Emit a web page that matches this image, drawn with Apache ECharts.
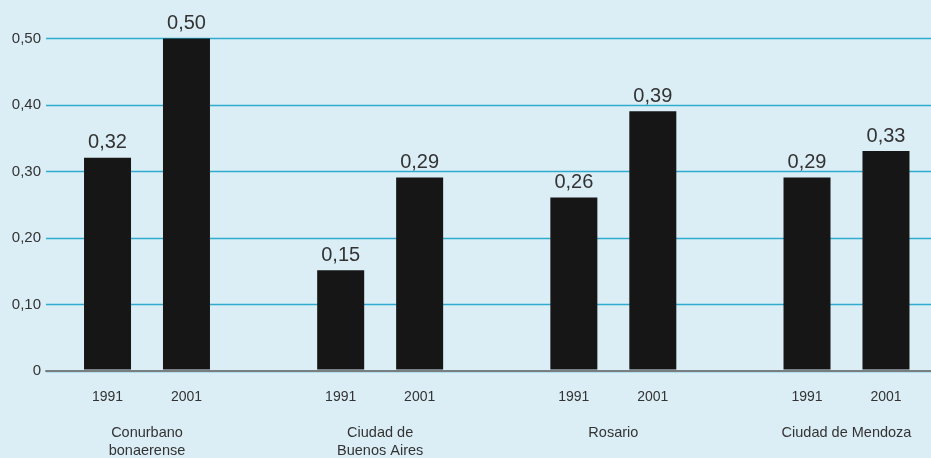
<!DOCTYPE html>
<html>
<head>
<meta charset="utf-8">
<script src="https://cdn.jsdelivr.net/npm/echarts@6/dist/echarts.min.js"></script>
<style>
  html, body { margin: 0; padding: 0; background: #DBEEF6; }
  #chart { width: 931px; height: 458px; }
</style>
</head>
<body>
<div id="chart"></div>
<script>
// Cities and census years
const categories = ['Conurbano\nbonaerense', 'Ciudad de\nBuenos Aires', 'Rosario', 'Ciudad de Mendoza'];
const years = ['1991', '2001'];
const values1991 = [0.32, 0.15, 0.26, 0.29];
const values2001 = [0.50, 0.29, 0.39, 0.33];
// Vertical scale
const yMin = 0;
const yMax = 0.5;
const yStep = 0.1;

const FONT = '"Liberation Sans", Arial, Helvetica, sans-serif';
const TEXT = '#333333';

const fmt = v => (v === 0 ? '0' : v.toFixed(2).replace('.', ','));

const chart = echarts.init(document.getElementById('chart'), null, { renderer: 'canvas' });

const barLabel = {
  show: true,
  position: 'top',
  distance: 5,
  fontFamily: FONT,
  fontSize: 20,
  color: TEXT,
  formatter: p => fmt(p.value)
};

chart.setOption({
  backgroundColor: '#DBEEF6',
  animation: false,
  textStyle: { fontFamily: FONT },
  grid: [
    // bars + category labels: first and last city sit on the grid edges
    { left: 147, right: 84.5, top: 38.5, bottom: 87, containLabel: false },
    // value scale, gridlines and baseline
    { left: 46, right: 0, top: 38.5, bottom: 87, containLabel: false }
  ],
  xAxis: [
    {
      type: 'category',
      gridIndex: 0,
      data: categories,
      boundaryGap: false,
      axisLine: { show: false },
      axisTick: { show: false },
      splitLine: { show: false },
      axisLabel: {
        interval: 0,
        margin: 18,
        color: TEXT,
        fontFamily: FONT,
        formatter: v =>
          '{y|' + years[0] + '}{y|' + years[1] + '}\n{g| }\n' +
          v.split('\n').map(s => '{n|' + s + '}').join('\n'),
        rich: {
          y: { width: 79, align: 'center', fontSize: 14, lineHeight: 20, color: TEXT, fontFamily: FONT },
          g: { fontSize: 2, lineHeight: 16 },
          n: { fontSize: 14.5, lineHeight: 18, color: TEXT, fontFamily: FONT }
        }
      }
    },
    {
      type: 'value',
      gridIndex: 1,
      min: 0,
      max: 1,
      axisLine: { show: true, onZero: false, lineStyle: { color: '#7B7E80', width: 2 } },
      axisTick: { show: false },
      axisLabel: { show: false },
      splitLine: { show: false }
    }
  ],
  yAxis: [
    {
      type: 'value',
      gridIndex: 0,
      min: yMin,
      max: yMax,
      interval: yStep,
      show: false,
      splitLine: { show: false }
    },
    {
      type: 'value',
      gridIndex: 1,
      min: yMin,
      max: yMax,
      interval: yStep,
      axisLine: { show: false },
      axisTick: { show: false },
      splitLine: { show: true, lineStyle: { color: '#2FABD0', width: 1.3 } },
      axisLabel: {
        margin: 5,
        color: TEXT,
        fontFamily: FONT,
        fontSize: 15,
        padding: [0, 0, 8, 0],
        formatter: v => fmt(v)
      }
    }
  ],
  series: [
    {
      name: years[0],
      type: 'bar',
      xAxisIndex: 0,
      yAxisIndex: 0,
      data: values1991,
      barWidth: 47,
      barGap: '68%',
      itemStyle: { color: '#161616' },
      label: barLabel
    },
    {
      name: years[1],
      type: 'bar',
      xAxisIndex: 0,
      yAxisIndex: 0,
      data: values2001,
      barWidth: 47,
      barGap: '68%',
      itemStyle: { color: '#161616' },
      label: barLabel
    }
  ]
});
</script>
</body>
</html>
